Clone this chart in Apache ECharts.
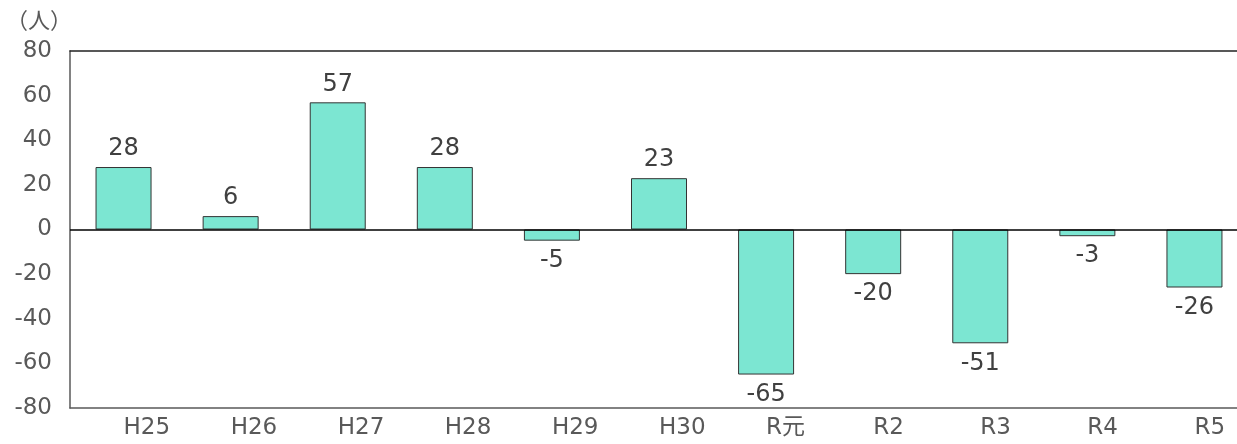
<!DOCTYPE html>
<html>
<head>
<meta charset="utf-8">
<script src="https://cdn.jsdelivr.net/npm/echarts@6/dist/echarts.min.js"></script>
<style>
  html, body { margin: 0; padding: 0; background: #fff; overflow: hidden; }
  /* the plot runs a little past the right edge of the window */
  #chart { width: 1248px; height: 444px; }
</style>
</head>
<body>
<div id="chart"></div>
<script>
const years = ['H25', 'H26', 'H27', 'H28', 'H29', 'H30', 'R元', 'R2', 'R3', 'R4', 'R5'];
const changes = [28, 6, 57, 28, -5, 23, -65, -20, -51, -3, -26];
const unitLabel = '（人）';

const FONT = '"DejaVu Sans", "Noto Sans CJK JP", sans-serif';
const CJK_FONT = '"Noto Sans CJK JP", sans-serif';

const chart = echarts.init(document.getElementById('chart'), null, { renderer: 'canvas' });

// Labels sit above positive bars and below negative ones
const barData = changes.map(v => ({
  value: v,
  label: v < 0 ? { position: 'bottom', distance: 8 } : { position: 'top', distance: 6 }
}));

chart.setOption({
  animation: false,
  backgroundColor: '#ffffff',
  grid: { left: 70, top: 51, right: 0, bottom: 36, containLabel: false },
  graphic: [{
    type: 'text', left: 6, top: 9,
    style: { text: unitLabel, font: '22px ' + CJK_FONT, fill: '#595959' }
  }],
  xAxis: [{
    type: 'category',
    data: years,
    position: 'bottom',
    axisLine: { onZero: false, lineStyle: { color: '#595959', width: 1.5 } },
    axisTick: { show: false },
    axisLabel: {
      color: '#595959', fontSize: 23, fontFamily: FONT,
      align: 'left', margin: 9
    },
    splitLine: { show: false }
  }, {
    type: 'category',
    data: years,
    position: 'top',
    axisLine: { onZero: false, lineStyle: { color: '#222', width: 1.5 } },
    axisTick: { show: false },
    axisLabel: { show: false }
  }],
  yAxis: {
    type: 'value',
    min: -80, max: 80, interval: 20,
    axisLine: { show: true, lineStyle: { color: '#595959', width: 1.5 } },
    axisTick: { show: false },
    splitLine: { show: false },
    axisLabel: { color: '#595959', fontSize: 23, fontFamily: FONT, margin: 18 }
  },
  series: [{
    type: 'bar',
    data: barData,
    barWidth: 56,
    itemStyle: { color: '#7ce6d2', borderColor: '#333', borderWidth: 1 },
    label: { show: true, color: '#404040', fontSize: 24, fontFamily: FONT },
    markLine: {
      silent: true,
      symbol: 'none',
      label: { show: false },
      lineStyle: { color: '#000', width: 1.5, type: 'solid' },
      data: [{ yAxis: 0 }]
    }
  }]
});
</script>
</body>
</html>
